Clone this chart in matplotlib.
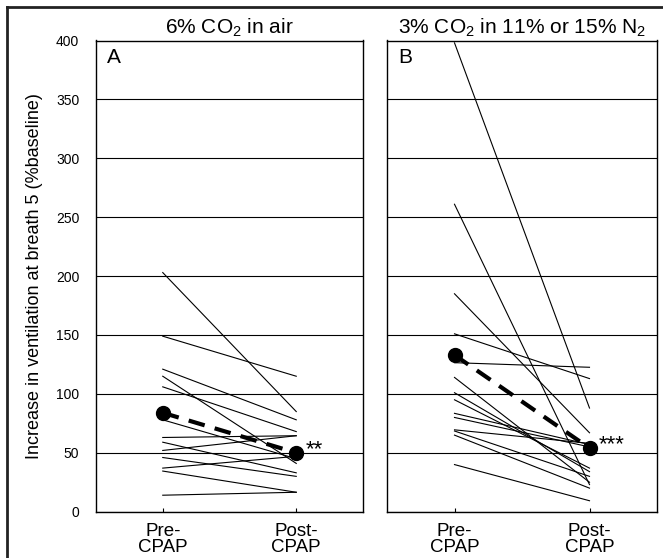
import matplotlib
matplotlib.use("Agg")
import matplotlib.pyplot as plt
from matplotlib.lines import Line2D

plt.rcParams['font.family'] = ['Liberation Sans', 'DejaVu Sans']
plt.rcParams['mathtext.fontset'] = 'custom'
plt.rcParams['mathtext.rm'] = 'Liberation Sans'
plt.rcParams['mathtext.it'] = 'Liberation Sans:italic'

# ---- data ----
conditions = ["Pre-\nCPAP", "Post-\nCPAP"]
panel_titles = [r"6% CO$\mathregular{_2}$ in air",
                r"3% CO$\mathregular{_2}$ in 11% or 15% N$\mathregular{_2}$"]
panel_letters = ["A", "B"]
significance = ["**", "***"]

a_pre = [203, 149, 121, 115, 106, 78, 63, 59, 52, 46, 37, 34.5, 14]
a_post = [85, 115, 78, 41, 68, 45, 64.5, 33, 64.5, 30, 47, 16.5, 16.5]
a_mean = [84, 50]

b_pre = [398, 261, 185, 151, 126.5, 114, 101, 95, 83.5, 80, 69.5, 68.5, 65, 40]
b_post = [88, 23, 67, 113, 122.6, 25, 34, 37, 57, 55, 58, 30, 20, 9.3]
b_mean = [133, 54]

yticks = [0, 50, 100, 150, 200, 250, 300, 350, 400]
ylabel = "Increase in ventilation at breath 5 (%baseline)"

W, H = 663, 558
fig = plt.figure(figsize=(W / 100, H / 100), dpi=100)

axA = fig.add_axes([96 / W, 1 - 511.7 / H, (363 - 96) / W, (511.7 - 40.5) / H])
axB = fig.add_axes([387 / W, 1 - 511.7 / H, (657 - 387) / W, (511.7 - 40.5) / H])

xpos = [1, 2]
panels = [(axA, a_pre, a_post, a_mean), (axB, b_pre, b_post, b_mean)]
for i, (ax, pre, post, mean) in enumerate(panels):
    for p0, p1 in zip(pre, post):
        ax.plot(xpos, [p0, p1], color='black', lw=0.8, zorder=3)
    ax.plot(xpos, mean, color='black', lw=3.0, dashes=(4, 2.5),
            marker='o', markersize=10, zorder=5, solid_capstyle='butt',
            dash_capstyle='butt')
    ax.text(xpos[1] + 0.07, mean[1] + 3, significance[i], fontsize=16,
            ha='left', va='center', zorder=6)
    ax.set_xlim(0.5, 2.5)
    ax.set_ylim(0, 400)
    ax.set_yticks(yticks)
    ax.set_xticks(xpos)
    ax.set_xticklabels(conditions, fontsize=13.5, linespacing=0.95)
    ax.tick_params(axis='x', direction='in', length=3, width=0.8, pad=8)
    ax.tick_params(axis='y', length=0, pad=12, labelsize=10)
    ax.yaxis.grid(True, color='black', lw=0.8)
    ax.set_axisbelow(True)
    for s in ax.spines.values():
        s.set_linewidth(1.0)
        s.set_color('black')
    ax.set_title(panel_titles[i], fontsize=15, pad=5)
    ax.text(0.04, 0.985, panel_letters[i], transform=ax.transAxes,
            fontsize=15, ha='left', va='top')

axB.tick_params(axis='y', labelleft=False)
axA.set_ylabel(ylabel, fontsize=13, labelpad=9)

# figure frame (left and top edges)
fig.add_artist(Line2D([6.5 / W, 6.5 / W], [0, 1 - 7 / H], transform=fig.transFigure,
                      color='#222222', lw=2))
fig.add_artist(Line2D([6.5 / W, 1], [1 - 7 / H, 1 - 7 / H], transform=fig.transFigure,
                      color='#222222', lw=2))

fig.savefig("out.png", dpi=100)
